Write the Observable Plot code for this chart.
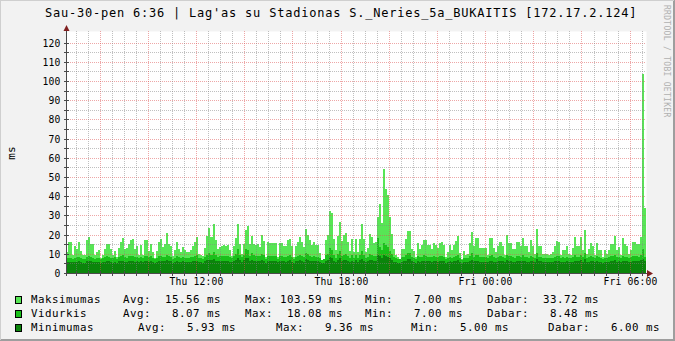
<!DOCTYPE html>
<html><head><meta charset="utf-8">
<script src="https://cdn.jsdelivr.net/npm/d3@7"></script>
<script src="https://cdn.jsdelivr.net/npm/@observablehq/plot@0.6"></script>
<style>
html,body{margin:0;padding:0;background:#F2F2F2;}
#chart{position:relative;width:675px;height:341px;overflow:hidden;background:#F2F2F2;}
svg text{font-family:"DejaVu Sans Mono",monospace;}
[aria-label="y-axis tick label"] text,[aria-label="x-axis tick label"] text{letter-spacing:0.16px;}
</style></head><body><div id="chart"></div>
<script>
// ---- data (5-minute steps, starting Thu 06:35:45) ----
const titleText = "Sau-30-pen 6:36 | Lag'as su Stadionas S._Neries_5a_BUKAITIS [172.17.2.124]";
const unitLabel = "ms";
const watermark = "RRDTOOL / TOBI OETIKER";
const seriesNames = ["Maksimumas", "Vidurkis", "Minimumas"];
const seriesColors = ["#57E655", "#1AC11A", "#0B850B"];
const legendStats = [
  ["Avg:  15.56 ms", "Max: 103.59 ms", "Min:   7.00 ms", "Dabar:  33.72 ms"],
  ["Avg:   8.07 ms", "Max:  18.08 ms", "Min:   7.00 ms", "Dabar:   8.48 ms"],
  ["Avg:   5.93 ms", "Max:   9.36 ms", "Min:   5.00 ms", "Dabar:   6.00 ms"]
];
const yTicks = [0,10,20,30,40,50,60,70,80,90,100,110,120];
const yMinor = [5,15,25,35,45,55,65,75,85,95,105,115];
const xLabels = ["Thu 12:00", "Thu 18:00", "Fri 00:00", "Fri 06:00"];
const xLabelTimes = ["2015-01-29T12:00Z", "2015-01-29T18:00Z", "2015-01-30T00:00Z", "2015-01-30T06:00Z"];
const startTime = "2015-01-29T06:35:45Z";
const stepMinutes = 5;

const maksimumas = [
11,16,16,9.4,14,12.7,16.3,11.5,9.4,9.4,17.2,18.8,15,15,9.4,10.8,12,8,9.4,12.5,
14.9,14.9,12.5,9.4,11.5,8.4,13.2,16.3,18.4,12.7,13.2,14.9,17,17.5,12.5,14,9.4,14.5,9.4,17.4,
17.4,11.5,14.9,10.8,8,11.5,16.3,17.7,13.7,15,20.8,14.9,14.2,8.9,12,16.3,12.5,11.1,13.7,12,
11.1,11.1,12.1,14.2,16.3,18.8,10,9.4,8.7,13.2,19.5,23.6,18.8,25.3,17,12.5,13.7,14.2,14.5,14.2,
14.5,12,8.7,14,18.4,25.3,15.3,10,15.3,22.2,24.6,14.9,19.5,15.3,14.5,15.3,13.7,
19.6,16.8,8.2,16.1,15.5,15.5,15.5,15.5,8.5,15.5,15.5,14,14,17.2,17.9,14,8.5,14,16.2,18.5,
16.4,13.3,22.7,19.6,17.2,14.4,16.1,14.4,14.7,10.3,7.0,7.2,17.2,19.6,32.1,31.4,17.5,12,19.2,26.5,
16.8,19.6,20.7,16.4,11.3,17.5,11.1,17.5,11.1,17.9,25.5,17.5,11.1,13,20.3,19,15.5,16.1,29,35.9,
26.2,54,43.9,40.8,29.3,20.3,12.7,9.5,8.5,7.5,12.7,12.7,17.5,22,22,12.7,11.3,8.5,15.5,12.7,
14.4,17.2,17.2,14.4,14.4,12.7,15.8,14.4,13,15.5,16.4,14.4,8.5,10.7,14.4,12,
14.6,16.7,19.1,10.4,7.2,11.4,9.4,9.7,15.6,21.5,14.2,18.4,18.4,13.2,13.2,13.2,13.2,9.4,18.4,18.4,
13.2,11.1,14.2,16.3,14.2,9.4,19.8,15.6,15.6,12.5,12.5,16.3,16.3,13.9,18.4,13.9,13.9,10.8,17,14.2,
10,22.9,14.2,14.2,10,10,10,9.4,10,10.8,14.2,16.7,16.3,9.4,12,12,14.2,10,9.4,12.9,
18.8,14.2,14.2,18.8,12,22.6,9.7,12.5,15.6,13.9,9.4,15.6,12,12,8.4,12,10,12,15,15,
19.1,12,13.5,9.4,18.4,14.9,14.2,10,12,16.3,16.3,15.3,14.9,18.8,103.59,33.72
];
const vidurkis = [
7.6,7.8,7.6,7.2,7.9,8.1,8.4,7.9,7.3,7.4,8.2,8.8,8.4,8.0,7.5,7.8,8.0,7.4,7.6,8.1,
8.6,8.3,8.0,7.6,8.1,7.4,8.3,8.8,9.2,8.1,8.0,8.6,8.9,9.1,8.2,8.4,7.6,8.5,7.7,8.8,
9.0,8.1,8.6,7.8,7.4,8.0,8.7,9.1,8.3,8.5,9.5,8.6,8.4,7.5,8.0,8.6,8.1,7.9,8.3,8.0,
7.8,7.9,8.1,8.4,8.6,9.2,7.9,7.6,7.5,8.3,9.4,10.2,9.6,10.8,9.4,8.5,8.7,8.8,8.9,8.7,
8.6,8.2,7.6,8.6,9.8,12.4,9.6,8.2,9.4,12.6,11.9,9.0,10.4,9.2,9.0,9.1,8.8,
9.8,9.2,7.4,9.0,8.8,8.7,8.6,8.8,7.5,8.7,8.6,8.3,8.2,9.1,9.3,8.2,7.4,8.3,8.9,9.5,
9.0,8.1,10.6,9.8,9.0,8.5,8.9,8.4,8.5,7.6,7.0,7.1,9.2,10.1,12.8,12.2,9.3,8.0,9.9,11.4,
9.1,9.6,10.0,9.0,7.9,9.2,7.8,9.3,7.9,9.4,11.2,9.2,7.8,8.3,10.0,9.6,8.7,9.0,18.08,13.4,
12.2,15.8,14.6,13.8,11.6,9.8,8.2,7.6,7.4,7.2,8.2,8.3,9.2,10.6,10.5,8.3,7.9,7.3,8.8,8.2,
8.5,9.2,9.1,8.5,8.4,8.1,8.8,8.4,8.2,8.7,8.9,8.4,7.4,7.8,8.5,8.0,
8.5,8.9,9.4,7.6,7.0,8.0,7.6,7.7,8.7,10.2,8.4,9.2,9.2,8.1,8.1,8.1,8.2,7.6,9.1,9.2,
8.2,7.9,8.4,8.9,8.4,7.6,9.5,8.7,8.6,8.1,8.0,8.8,8.7,8.3,9.2,8.3,8.2,7.8,8.9,8.4,
7.7,10.4,8.4,8.3,7.7,7.8,7.7,7.6,7.7,7.8,8.4,8.8,8.8,7.6,8.1,8.0,8.4,7.7,7.6,8.2,
9.2,8.4,8.5,9.3,8.1,10.6,7.6,8.1,8.7,8.4,7.6,8.7,8.1,8.0,7.4,8.0,7.7,8.1,8.6,8.7,
9.4,8.1,8.3,7.6,9.1,8.5,8.4,7.7,8.1,8.8,8.9,8.6,8.5,9.4,12.4,8.48
];
const minimumas = [
5.6,5.8,5.9,5.5,5.7,5.9,6.2,5.8,5.3,5.4,6.0,6.3,6.1,5.9,5.5,5.6,5.8,5.2,5.5,5.9,
6.1,6.0,5.8,5.4,5.9,5.3,6.0,6.2,6.5,5.9,5.8,6.1,6.3,6.4,5.9,6.0,5.5,6.1,5.6,6.3,
6.4,5.9,6.1,5.6,5.3,5.8,6.2,6.4,6.0,6.1,6.6,6.1,6.0,5.4,5.8,6.2,5.9,5.7,6.0,5.8,
5.6,5.7,5.9,6.1,6.2,6.5,5.7,5.5,5.4,6.0,6.6,7.0,6.7,7.2,6.5,6.0,6.1,6.2,6.3,6.1,
6.1,5.9,5.5,6.1,6.8,7.8,6.7,5.9,6.6,8.0,7.6,6.3,7.0,6.4,6.3,6.4,6.2,
6.8,6.5,5.4,6.4,6.3,6.2,6.1,6.3,5.5,6.2,6.1,6.0,5.9,6.5,6.6,5.9,5.4,6.0,6.3,6.7,
6.4,5.9,7.3,6.8,6.4,6.1,6.3,6.0,6.1,5.5,5.0,5.1,6.5,7.0,8.1,7.8,6.5,5.8,6.9,7.6,
6.5,6.7,6.9,6.4,5.7,6.5,5.6,6.6,5.7,6.6,7.4,6.5,5.6,6.0,6.9,6.7,6.2,6.4,9.36,8.6,
7.9,9.2,8.8,8.5,7.6,6.8,5.9,5.5,5.3,5.2,5.9,6.0,6.5,7.2,7.1,6.0,5.7,5.3,6.3,5.9,
6.1,6.5,6.4,6.1,6.0,5.9,6.3,6.0,5.9,6.2,6.3,6.0,5.4,5.6,6.1,5.8,
6.1,6.3,6.6,5.5,5.1,5.8,5.5,5.6,6.2,7.0,6.0,6.5,6.5,5.9,5.9,5.9,5.9,5.5,6.4,6.5,
5.9,5.7,6.0,6.3,6.0,5.5,6.7,6.2,6.1,5.9,5.8,6.3,6.2,6.0,6.5,6.0,5.9,5.6,6.3,6.0,
5.6,7.1,6.0,6.0,5.6,5.6,5.6,5.5,5.6,5.7,6.0,6.3,6.3,5.5,5.8,5.8,6.0,5.6,5.5,5.9,
6.5,6.0,6.1,6.6,5.8,7.2,5.5,5.8,6.2,6.0,5.5,6.2,5.8,5.8,5.4,5.8,5.6,5.8,6.1,6.2,
6.6,5.8,6.0,5.5,6.4,6.1,6.0,5.6,5.8,6.3,6.3,6.1,6.1,6.6,7.4,6.00
];

// ---- build table ----
const T0 = new Date(startTime).getTime();
const STEP = stepMinutes * 60000;
const N = maksimumas.length;
const rows = maksimumas.map((v, i) => ({t: new Date(T0 + i * STEP), max: v, avg: vidurkis[i], min: minimumas[i]}));
rows.push({...rows[N - 1], t: new Date(T0 + N * STEP)});
const tEnd = new Date(T0 + N * STEP);
const xTickDates = xLabelTimes.map(s => new Date(s));
const firstHalfHour = Math.ceil(T0 / 1800000) * 1800000;
const xMinor = [], xMajor = [];
for (let t = firstHalfHour; t < tEnd.getTime(); t += 1800000) {
  if (t % 7200000 === 0) xMajor.push(new Date(t)); else xMinor.push(new Date(t));
}

const minorGrid = "rgba(130,130,130,0.5)";
const majorGrid = "rgba(222,79,79,0.5)";

const plot = Plot.plot({
  width: 675, height: 341,
  marginLeft: 66, marginRight: 29, marginTop: 31, marginBottom: 68,
  style: {background: "transparent", fontFamily: "DejaVu Sans Mono", fontSize: "9.7px", color: "#000"},
  x: {type: "utc", domain: [new Date(T0), tEnd], range: [66, 646], round: true},
  y: {domain: [0, 125], range: [273, 33], round: true},
  marks: [
    Plot.frame({fill: "#FFFFFF", stroke: null}),
    Plot.areaY(rows, {x: "t", y: "max", curve: "step-after", fill: seriesColors[0]}),
    Plot.areaY(rows, {x: "t", y: "avg", curve: "step-after", fill: seriesColors[1]}),
    Plot.areaY(rows, {x: "t", y: "min", curve: "step-after", fill: seriesColors[2]}),
    Plot.ruleY(yMinor, {stroke: minorGrid, strokeDasharray: "1,1"}),
    Plot.ruleY(yTicks.filter(d => d > 0), {stroke: majorGrid, strokeDasharray: "1,1"}),
    Plot.ruleX(xMinor, {stroke: minorGrid, strokeDasharray: "1,1"}),
    Plot.ruleX(xMajor, {stroke: majorGrid, strokeDasharray: "1,1"}),
    Plot.axisY({ticks: yTicks, tickSize: 0, tickPadding: 6, label: null, fontSize: 9.7, fill: "#000"}),
    Plot.axisX({ticks: xTickDates, tickSize: 0, tickPadding: 5, label: null, fontSize: 9.7, fill: "#000",
      tickFormat: d => xLabels[xTickDates.findIndex(t => +t === +d)]})
  ]
});
document.getElementById("chart").appendChild(plot);

// ---- decorations drawn with scales ----
const svg = d3.select(plot);
const sx = plot.scale("x"), sy = plot.scale("y");
const x0 = Math.round(sx.apply(new Date(T0))), y0 = Math.round(sy.apply(0));
const xe = Math.round(sx.apply(tEnd));
const yTop = 31;
const g = svg.append("g");
const axisColor = "#4a4a4a", arrowColor = "#802020";
yMinor.concat(yTicks).forEach(v => {
  const y = Math.round(sy.apply(v)) + 0.5;
  g.append("line").attr("x1", x0 - 2).attr("x2", x0 + 3).attr("y1", y).attr("y2", y).attr("stroke", axisColor);
});
xMinor.concat(xMajor).forEach(t => {
  const x = Math.round(sx.apply(t)) + 0.5;
  g.append("line").attr("x1", x).attr("x2", x).attr("y1", y0 - 2).attr("y2", y0 + 3).attr("stroke", axisColor);
});
g.append("line").attr("x1", x0 + 0.5).attr("x2", x0 + 0.5).attr("y1", y0 + 3).attr("y2", yTop).attr("stroke", axisColor);
g.append("line").attr("x1", x0 - 2).attr("x2", xe + 2).attr("y1", y0 + 0.5).attr("y2", y0 + 0.5).attr("stroke", axisColor);
g.append("path").attr("d", `M${x0 - 2.5},${yTop} L${x0 + 3.5},${yTop} L${x0 + 0.5},${yTop - 6} Z`).attr("fill", arrowColor);
g.append("path").attr("d", `M${xe + 1},${y0 - 3} L${xe + 1},${y0 + 4} L${xe + 7},${y0 + 0.5} Z`).attr("fill", arrowColor);

const nb = s => s.replace(/ /g, "\u00A0");
function addText(x, y, size, spacing, str) {
  return svg.append("text").attr("x", x).attr("y", y).attr("font-size", size)
    .attr("text-anchor", "start").style("letter-spacing", spacing + "px").attr("fill", "#000").text(nb(str));
}
// title
addText(45, 17, 12, 0.78, titleText);
// unit
svg.append("text").attr("transform", "translate(15,153) rotate(-90)").attr("text-anchor", "middle")
  .attr("font-size", 11).attr("fill", "#000").text(unitLabel);
// watermark
svg.append("text").attr("transform", "translate(664,5) rotate(90)").attr("font-size", 8).attr("text-anchor", "start")
  .style("letter-spacing", "0.3px").attr("fill", "#b0b0b0").text(nb(watermark));

// legend
const rowY = [303, 317, 331];
const statX = [[123, 245, 365, 487], [123, 245, 365, 487], [138, 276, 411, 548]];
seriesNames.forEach((name, r) => {
  svg.append("rect").attr("x", 15.5).attr("y", rowY[r] - 6.5).attr("width", 6).attr("height", 7)
    .attr("fill", seriesColors[r]).attr("stroke", "#000");
  addText(31, rowY[r], 10.8, 0.5, name);
  legendStats[r].forEach((s, c) => addText(statX[r][c], rowY[r], 10.8, 0.5, s));
});

// outer shading border
svg.append("line").attr("x1", 0).attr("x2", 675).attr("y1", 0.5).attr("y2", 0.5).attr("stroke", "#CFCFCF");
svg.append("line").attr("x1", 0.5).attr("x2", 0.5).attr("y1", 0).attr("y2", 341).attr("stroke", "#CFCFCF");
svg.append("line").attr("x1", 674.5).attr("x2", 674.5).attr("y1", 0).attr("y2", 341).attr("stroke", "#9E9E9E");
svg.append("line").attr("x1", 673.5).attr("x2", 673.5).attr("y1", 1).attr("y2", 341).attr("stroke", "#9E9E9E");
svg.append("line").attr("x1", 0).attr("x2", 675).attr("y1", 340.5).attr("y2", 340.5).attr("stroke", "#9E9E9E");
svg.append("line").attr("x1", 1).attr("x2", 675).attr("y1", 339.5).attr("y2", 339.5).attr("stroke", "#9E9E9E");
</script></body></html>
